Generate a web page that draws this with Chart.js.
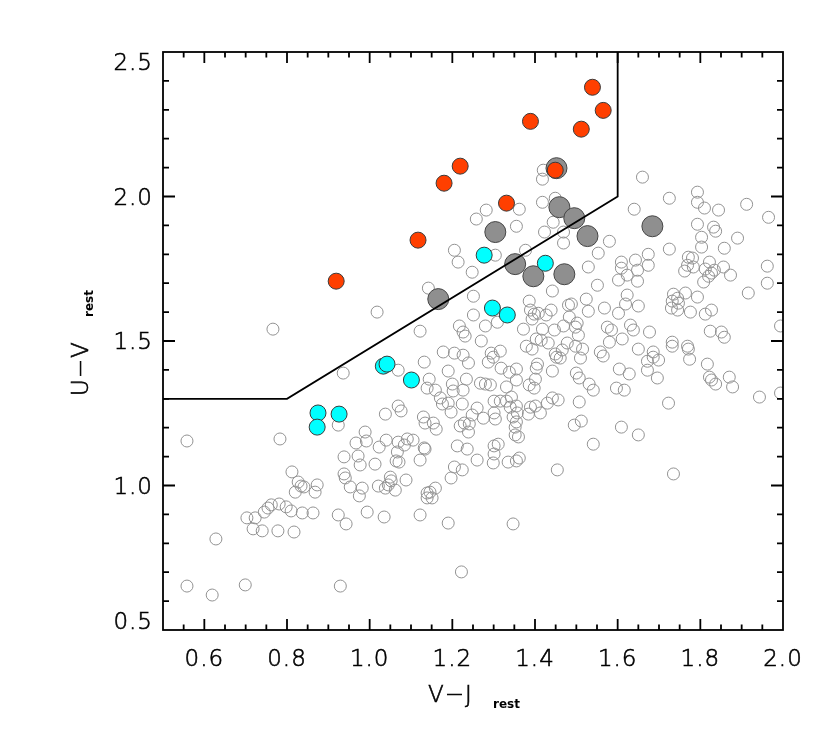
<!DOCTYPE html>
<html><head><meta charset="utf-8">
<script src="https://cdn.jsdelivr.net/npm/chart.js@4.4.1/dist/chart.umd.min.js"></script>
<style>html,body{margin:0;padding:0;background:#fff;}canvas{display:block;}</style>
</head><body>
<canvas id="c" width="830" height="734"></canvas>
<script>
// ---- data ----
const xTickLabels = ['0.6','0.8','1.0','1.2','1.4','1.6','1.8','2.0'];
const yTickLabels = ['0.5','1.0','1.5','2.0','2.5'];
const xTitle = 'V\u2212J', yTitle = 'U\u2212V', subTitle = 'rest';

// selection box (UVJ quiescent boundary)
const boxVJ = [0.5, 0.8, 1.6, 1.6];
const boxUV = [1.3, 1.3, 2.0, 2.5];

const redVJ = [0.919,1.117,1.180,1.219,1.331,1.389,1.449,1.512,1.539,1.565];
const redUV = [1.707,1.849,2.046,2.105,1.977,2.260,2.091,2.233,2.378,2.298];

const cyanVJ = [0.875,0.873,0.926,1.033,1.042,1.101,1.277,1.425,1.297,1.333];
const cyanUV = [1.251,1.202,1.247,1.413,1.420,1.365,1.797,1.769,1.614,1.590];

const grayVJ = [1.166,1.304,1.352,1.396,1.471,1.459,1.495,1.527,1.684,1.452];
const grayUV = [1.645,1.877,1.766,1.724,1.731,1.963,1.925,1.863,1.897,2.098];

const openVJ = [
 1.660,1.420,1.418,1.418,1.449,1.282,1.258,1.362,1.355,1.444,
 1.423,1.469,1.469,1.725,1.640,1.793,1.793,1.810,1.844,1.912,
 1.965,1.793,1.832,1.837,1.803,1.803,1.858,1.890,1.580,1.725,
 1.205,1.377,1.214,1.248,1.304,1.553,1.529,1.674,1.674,1.643,
 1.609,1.609,1.648,1.623,1.602,1.648,1.623,1.771,1.781,1.769,
 1.783,1.762,1.822,1.812,1.827,1.834,1.820,1.808,1.856,1.873,
 1.962,1.962,1.916,1.142,1.442,1.551,1.764,1.735,1.745,1.732,
 1.747,1.793,1.251,1.386,1.524,1.018,0.766,1.122,1.251,1.568,
 1.389,1.398,1.408,1.427,1.393,1.439,1.481,1.488,1.529,1.483,
 1.502,1.498,1.469,1.447,1.418,1.372,1.217,1.226,1.231,1.280,
 1.309,1.270,1.403,1.415,1.432,1.505,1.575,1.585,1.379,1.393,
 1.478,1.178,1.205,1.226,1.239,1.294,1.316,1.498,1.515,1.510,
 1.466,1.461,1.449,1.558,1.565,1.602,1.619,1.650,1.776,1.812,
 1.827,1.730,1.745,1.611,1.580,1.638,1.631,1.677,1.824,1.851,
 1.858,1.994,1.732,1.732,1.769,1.771,1.650,1.686,
 1.132,1.069,1.139,1.038,1.069,1.076,1.130,1.134,1.040,
 1.069,1.084,1.091,1.105,1.132,1.067,1.064,1.071,1.122,1.050,
 1.052,1.045,1.038,1.062,1.088,1.139,1.139,1.122,1.035,1.144,
 1.159,1.171,1.176,1.190,1.190,1.200,1.202,1.234,1.226,1.197,
 1.224,1.260,1.248,1.275,1.154,1.161,1.219,1.229,1.241,1.239,
 1.268,1.280,1.292,1.287,1.299,1.318,1.338,1.355,1.355,1.331,
 1.301,1.316,1.331,1.343,1.340,1.301,1.304,1.355,1.357,1.347,
 1.355,1.352,1.352,1.360,1.384,1.389,1.401,1.413,1.386,1.398,
 1.401,1.403,1.406,1.442,1.430,1.442,1.456,1.452,1.500,1.507,
 1.531,1.541,1.507,1.495,1.512,1.541,1.212,1.236,1.301,1.311,
 1.301,1.299,1.260,1.335,1.355,1.362,1.205,1.224,1.197,1.454,
 1.159,1.146,1.151,1.190,1.347,1.222,1.134,
 1.604,1.628,1.597,1.616,1.672,1.672,1.696,1.699,1.686,1.774,
 1.817,1.822,1.827,1.837,1.870,1.878,1.943,1.994,1.723,1.609,
 1.650,1.735,
 0.936,0.783,0.558,0.924,0.989,0.992,0.967,1.023,0.938,0.972,
 0.977,1.013,0.812,0.827,0.834,0.820,0.841,0.873,0.868,0.938,
 0.941,0.953,0.975,0.982,1.021,0.994,0.745,0.754,0.762,0.781,
 0.798,0.810,0.837,0.863,0.703,0.723,0.718,0.740,0.778,0.817,
 0.924,0.943,0.628,0.558,0.619,0.699,0.929
];
const openUV = [
 2.067,2.091,2.060,1.980,1.994,1.953,1.922,1.956,1.897,1.911,
 1.877,1.877,1.839,1.994,1.956,2.015,1.980,1.960,1.953,1.973,
 1.928,1.904,1.894,1.880,1.859,1.825,1.821,1.856,1.845,1.818,
 1.814,1.814,1.773,1.738,1.797,1.804,1.756,1.800,1.762,1.780,
 1.773,1.752,1.745,1.728,1.711,1.707,1.659,1.790,1.787,1.762,
 1.756,1.742,1.773,1.749,1.735,1.745,1.724,1.704,1.756,1.728,
 1.759,1.700,1.666,1.683,1.673,1.693,1.666,1.662,1.648,1.638,
 1.631,1.652,1.655,1.638,1.645,1.600,1.541,1.534,1.590,1.614,
 1.607,1.593,1.596,1.590,1.576,1.607,1.624,1.628,1.603,1.583,
 1.562,1.548,1.552,1.538,1.541,1.541,1.552,1.531,1.517,1.552,
 1.565,1.500,1.507,1.503,1.493,1.520,1.548,1.538,1.482,1.472,
 1.493,1.462,1.458,1.451,1.424,1.458,1.465,1.482,1.472,1.441,
 1.469,1.441,1.455,1.462,1.448,1.596,1.628,1.621,1.600,1.593,
 1.607,1.614,1.607,1.507,1.496,1.538,1.555,1.531,1.534,1.531,
 1.513,1.552,1.496,1.482,1.482,1.472,1.472,1.462,
 1.427,1.399,1.337,1.247,1.275,1.258,1.237,1.216,1.157,
 1.150,1.140,1.161,1.157,1.130,1.116,1.085,1.081,1.088,1.029,
 1.016,1.002,0.991,0.984,1.019,0.974,0.957,0.898,0.891,1.368,
 1.330,1.303,1.282,1.285,1.396,1.351,1.327,1.368,1.330,1.254,
 1.282,1.268,1.244,1.233,1.216,1.195,1.206,1.216,1.213,1.185,
 1.354,1.351,1.348,1.427,1.444,1.406,1.392,1.403,1.365,1.341,
 1.292,1.292,1.292,1.306,1.271,1.251,1.230,1.275,1.251,1.237,
 1.220,1.202,1.175,1.168,1.247,1.271,1.275,1.251,1.348,1.337,
 1.368,1.406,1.420,1.396,1.285,1.303,1.296,1.444,1.389,1.372,
 1.351,1.330,1.289,1.209,1.223,1.143,1.137,1.126,1.137,1.143,
 1.109,1.078,1.088,1.081,1.085,1.095,1.064,1.054,1.026,1.054,
 0.991,0.977,0.957,0.870,0.867,0.701,1.126,
 1.403,1.386,1.337,1.330,1.399,1.430,1.372,1.434,1.444,1.437,
 1.420,1.375,1.365,1.351,1.375,1.341,1.306,1.320,1.285,1.202,
 1.175,1.040,
 1.389,1.161,1.154,1.209,1.185,1.154,1.147,1.133,1.099,1.102,
 1.071,1.074,1.047,1.012,0.998,0.977,0.995,1.002,0.977,1.040,
 1.026,0.995,0.964,0.991,0.998,0.908,0.908,0.922,0.933,0.936,
 0.926,0.912,0.905,0.905,0.888,0.888,0.850,0.843,0.843,0.839,
 0.898,0.867,0.815,0.652,0.621,0.656,0.652
];

// ---- rendering ----
const FONT = '"DejaVu Sans", "Liberation Sans", sans-serif';
const FS = 23;
const FW = '200';
const TSW = 0.6;   // slight stroke to darken the thin face
const pts = (xs, ys) => xs.map((v, i) => ({x: v, y: ys[i]}));

function label(ctx, t, x, y) {
  ctx.fillText(t, x, y);
  ctx.strokeText(t, x, y);
}

const axisFrame = {
  id: 'axisFrame',
  beforeDraw(chart) { chart.ctx.letterSpacing = '1px'; },
  afterDraw(chart) {
    const ctx = chart.ctx, a = chart.chartArea;
    const xs = chart.scales.x, ys = chart.scales.y;
    ctx.save();
    ctx.strokeStyle = '#000';
    ctx.lineWidth = 1.8;
    ctx.strokeRect(a.left, a.top, a.right - a.left, a.bottom - a.top);
    ctx.beginPath();
    const xMinor = 0.05, xMajor = 0.2, yMinor = 0.1, yMajor = 0.5;
    const nx = Math.round((xs.max - xs.min) / xMinor);
    for (let i = 1; i < nx; i++) {
      const v = xs.min + i * xMinor;
      const maj = Math.abs(v / xMajor - Math.round(v / xMajor)) < 1e-6;
      const len = maj ? 11 : 5.5;
      const p = xs.getPixelForValue(v);
      ctx.moveTo(p, a.bottom); ctx.lineTo(p, a.bottom - len);
      ctx.moveTo(p, a.top); ctx.lineTo(p, a.top + len);
    }
    const ny = Math.round((ys.max - ys.min) / yMinor);
    for (let i = 1; i < ny; i++) {
      const v = ys.min + i * yMinor;
      const maj = Math.abs(v / yMajor - Math.round(v / yMajor)) < 1e-6;
      const len = maj ? 12 : 6;
      const p = ys.getPixelForValue(v);
      ctx.moveTo(a.left, p); ctx.lineTo(a.left + len, p);
      ctx.moveTo(a.right, p); ctx.lineTo(a.right - len, p);
    }
    ctx.stroke();

    // y tick labels (kept inside the axis span, as in the original)
    ctx.fillStyle = '#000';
    ctx.lineWidth = TSW;
    ctx.font = FW + ' ' + FS + 'px ' + FONT;
    ctx.textAlign = 'right';
    ctx.textBaseline = 'alphabetic';
    const capH = 0.73 * FS;
    yTickLabels.forEach(t => {
      let c = ys.getPixelForValue(parseFloat(t));
      c = Math.min(Math.max(c, a.top + capH / 2 + 1), a.bottom - capH / 2 - 1);
      label(ctx, t, a.left - 10, c + capH / 2);
    });

    // x title
    ctx.textAlign = 'left';
    ctx.font = FW + ' ' + FS + 'px ' + FONT;
    label(ctx, xTitle, 428, 702);
    ctx.font = 'bold 12px ' + FONT;
    ctx.letterSpacing = '0px';
    ctx.fillText(subTitle, 493, 708);

    // y title (rotated)
    ctx.save();
    ctx.translate(88, 396);
    ctx.rotate(-Math.PI / 2);
    ctx.letterSpacing = '1px';
    ctx.font = FW + ' ' + FS + 'px ' + FONT;
    label(ctx, yTitle, 0, 0);
    ctx.letterSpacing = '0px';
    ctx.font = 'bold 12px ' + FONT;
    ctx.fillText(subTitle, 79, 5);
    ctx.restore();

    ctx.restore();
    ctx.letterSpacing = '0px';
  }
};

new Chart(document.getElementById('c'), {
  type: 'scatter',
  data: {
    datasets: [
      { type: 'line', label: 'selection', data: pts(boxVJ, boxUV),
        borderColor: '#000', borderWidth: 1.8, pointRadius: 0, fill: false, tension: 0, clip: 0 },
      { label: 'red', data: pts(redVJ, redUV), pointRadius: 8, pointHoverRadius: 8,
        backgroundColor: '#ff3f00', borderColor: '#3a3a3a', borderWidth: 1, clip: 0 },
      { label: 'cyan', data: pts(cyanVJ, cyanUV), pointRadius: 8, pointHoverRadius: 8,
        backgroundColor: '#00ffff', borderColor: '#3a3a3a', borderWidth: 1, clip: 0 },
      { label: 'gray', data: pts(grayVJ, grayUV), pointRadius: 10.5, pointHoverRadius: 10.5,
        backgroundColor: '#8f8f8f', borderColor: '#444', borderWidth: 1, clip: 0 },
      { label: 'all', data: pts(openVJ, openUV), pointRadius: 6, pointHoverRadius: 6,
        backgroundColor: 'rgba(0,0,0,0)', borderColor: '#929292', borderWidth: 1, clip: 0 }
    ]
  },
  options: {
    responsive: false,
    animation: false,
    events: [],
    layout: { padding: { top: 52, right: 47, bottom: 0, left: 0 } },
    plugins: { legend: { display: false }, tooltip: { enabled: false } },
    scales: {
      x: {
        type: 'linear', min: 0.5, max: 2.0,
        afterFit(s) { s.height = 104; },
        afterBuildTicks(s) { s.ticks = xTickLabels.map(t => ({ value: parseFloat(t) })); },
        ticks: { color: '#000', font: { family: FONT, size: FS, weight: FW }, padding: 16,
                 textStrokeColor: '#000', textStrokeWidth: TSW,
                 maxRotation: 0, autoSkip: false,
                 callback: (v) => xTickLabels.find(t => Math.abs(parseFloat(t) - v) < 1e-6) || '' },
        grid: { display: false, drawTicks: false },
        border: { display: false }
      },
      y: {
        type: 'linear', min: 0.5, max: 2.5,
        afterFit(s) { s.width = 163; },
        ticks: { display: false },
        grid: { display: false, drawTicks: false },
        border: { display: false }
      }
    }
  },
  plugins: [axisFrame]
});
</script>
</body></html>
